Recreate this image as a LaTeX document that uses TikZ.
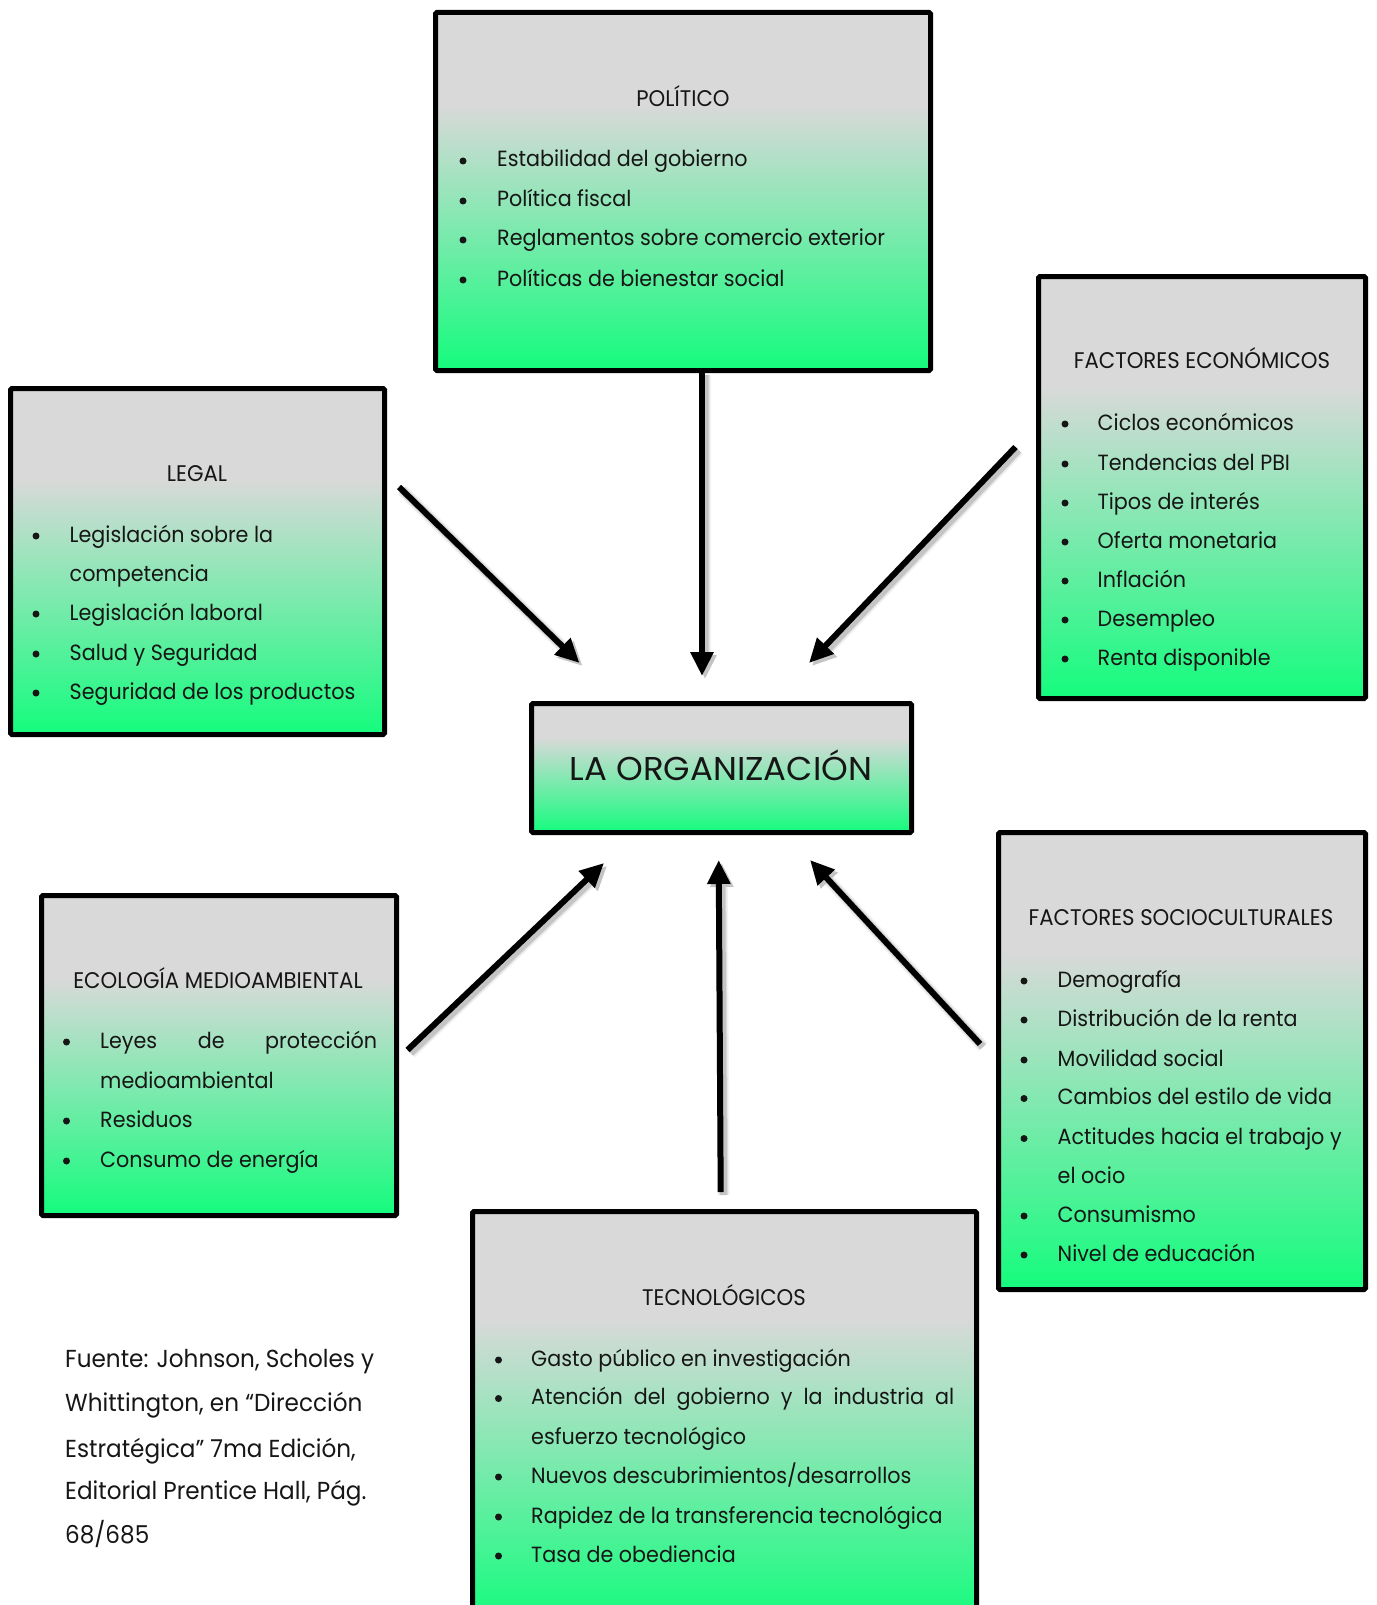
\documentclass[tikz,border=0pt]{standalone}
\usepackage{fontspec}
\setmainfont{Poppins}[FakeStretch=0.94]
\newfontfamily\headfont{Poppins}[FakeStretch=1.03]
\usetikzlibrary{arrows.meta}
\definecolor{pgray}{RGB}{217,217,217}
\definecolor{pgreen}{RGB}{20,252,125}
\definecolor{ink}{RGB}{22,22,22}
% panel fill: light grey at the top fading into bright green at the bottom
\pgfdeclareverticalshading{panelfill}{100bp}{color(0bp)=(pgreen); color(25bp)=(pgreen); color(62bp)=(pgray); color(100bp)=(pgray)}
\newcommand\fsz[1]{\fontsize{#1pt}{#1pt}\selectfont}
% arrow with a soft drop shadow
\newcommand\linkarrow[2]{%
  \foreach \w/\o in {12/0.05,9/0.08,7/0.12}{%
    \begin{scope}[transparency group, opacity=\o]
      \draw[draw=black, line width=\w pt, -{Triangle[length=24pt,width=22pt]}]
        ([shift={(3,3)}]#1) -- ([shift={(3,3)}]#2);
    \end{scope}}%
  \draw[link] (#1) -- (#2);}
\begin{document}
\begin{tikzpicture}[x=1pt,y=-1pt,
  panel/.style={draw=black, line width=5pt, shading=panelfill, rectangle, inner sep=0pt,
    outer sep=0pt, anchor=north west, rounded corners=1.5pt},
  ttl/.style={anchor=base, inner sep=0pt, font=\fsz{22.6}, text=ink},
  itm/.style={anchor=base west, inner sep=0pt, font=\fsz{22}, text=ink},
  dot/.style={circle, fill=ink, inner sep=0pt, minimum size=7pt},
  link/.style={draw=black, line width=6pt, -{Triangle[length=24pt,width=22pt]}},
  note/.style={anchor=base west, inner sep=0pt, font=\fsz{24.6}, text=ink}]
\useasboundingbox (0,0) rectangle (1376,1605);
\clip (0,0) rectangle (1376,1605);

% ---------------- panels ----------------
\node[panel, minimum width=495pt, minimum height=358pt] (pol) at (435.5,12.5) {};
\node[panel, minimum width=374pt, minimum height=346pt] (leg) at (10.5,388.5) {};
\node[panel, minimum width=327pt, minimum height=422pt] (eco) at (1038.5,276.5) {};
\node[panel, minimum width=380pt, minimum height=129pt] (org) at (531.5,703.5) {};
\node[panel, minimum width=355pt, minimum height=320pt] (amb) at (41.5,895.5) {};
\node[panel, minimum width=367pt, minimum height=457pt] (soc) at (998.5,832.5) {};
\node[panel, minimum width=504pt, minimum height=410pt] (tec) at (472.5,1211.5) {};

% ---------------- texts ----------------
\node[ttl, font=\headfont\fsz{33}] (orgT) at (721,780) {LA ORGANIZACIÓN};

\node[ttl] (polT) at (683,107) {POLÍTICO};
\foreach \y/\t [count=\i] in {167/Estabilidad del gobierno,207/Política fiscal,
    246/Reglamentos sobre comercio exterior,286/Políticas de bienestar social}{
  \node[dot] (polB\i) at (463,\y-6) {};
  \node[itm] (polI\i) at (497,\y) {\t};}

\node[ttl] (legT) at (197,481) {LEGAL};
\foreach \y/\t [count=\i] in {542/Legislación sobre la,620/Legislación laboral,
    660/Salud y Seguridad,699/Seguridad de los productos}{
  \node[dot] (legB\i) at (36,\y-6) {};
  \node[itm] (legI\i) at (69.5,\y) {\t};}
\node[itm] (legC) at (69.5,581) {competencia};

\node[ttl] (ecoT) at (1202,368) {FACTORES ECONÓMICOS};
\foreach \y/\t [count=\i] in {430/Ciclos económicos,470/Tendencias del PBI,
    509/Tipos de interés,548/Oferta monetaria,587/Inflación,626/Desempleo,
    665/Renta disponible}{
  \node[dot] (ecoB\i) at (1065,\y-6) {};
  \node[itm] (ecoI\i) at (1097.5,\y) {\t};}

\node[ttl] (ambT) at (218,988) {ECOLOGÍA MEDIOAMBIENTAL};
\node[dot] (ambB1) at (66.5,1042) {};
\node[itm] (ambI1) at (100,1048) {\makebox[277pt][s]{Leyes de protección}};
\node[itm] (ambC) at (100,1088) {medioambiental};
\foreach \y/\t [count=\i from 2] in {1127/Residuos,1167/Consumo de energía}{
  \node[dot] (ambB\i) at (66.5,\y-6) {};
  \node[itm] (ambI\i) at (100,\y) {\t};}

\node[ttl] (socT) at (1181,925) {FACTORES SOCIOCULTURALES};
\foreach \y/\t [count=\i] in {987/Demografía,1026/Distribución de la renta,
    1066/Movilidad social,1104.5/Cambios del estilo de vida}{
  \node[dot] (socB\i) at (1024,\y-6) {};
  \node[itm] (socI\i) at (1057.5,\y) {\t};}
\node[dot] (socB5) at (1024,1138.5) {};
\node[itm] (socI5) at (1057.5,1144.5) {\makebox[284pt][s]{Actitudes hacia el trabajo y}};
\node[itm] (socC) at (1057.5,1183) {el ocio};
\foreach \y/\t [count=\i from 6] in {1222/Consumismo,1261/Nivel de educación}{
  \node[dot] (socB\i) at (1024,\y-6) {};
  \node[itm] (socI\i) at (1057.5,\y) {\t};}

\node[ttl] (tecT) at (724,1305) {TECNOLÓGICOS};
\node[dot] (tecB1) at (498.5,1360) {};
\node[itm] (tecI1) at (531,1366) {Gasto público en investigación};
\node[dot] (tecB2) at (498.5,1398.5) {};
\node[itm] (tecI2) at (531,1404.5) {\makebox[423pt][s]{Atención del gobierno y la industria al}};
\node[itm] (tecC) at (531,1444) {esfuerzo tecnológico};
\foreach \y/\t [count=\i from 3] in {1483/{Nuevos descubrimientos/desarrollos},
    1523/Rapidez de la transferencia tecnológica,1562/Tasa de obediencia}{
  \node[dot] (tecB\i) at (498.5,\y-6) {};
  \node[itm] (tecI\i) at (531,\y) {\t};}

% ---------------- source note ----------------
\node[note] (src1) at (65,1367) {Fuente: Johnson, Scholes y};
\node[note] (src2) at (65,1411) {Whittington, en “Dirección};
\node[note] (src3) at (65,1457) {Estratégica” 7ma Edición,};
\node[note] (src4) at (65,1499) {Editorial Prentice Hall, Pág.};
\node[note] (src5) at (65,1543) {68/685};

% ---------------- arrows ----------------
\coordinate (polA) at (702,372);   \coordinate (polZ) at (702,676);
\coordinate (legA) at (399,487);   \coordinate (legZ) at (579.5,663);
\coordinate (ecoA) at (1015.5,447);\coordinate (ecoZ) at (809,663);
\coordinate (ambA) at (407.5,1050);\coordinate (ambZ) at (604,863);
\coordinate (tecA) at (720.7,1192);\coordinate (tecZ) at (718.7,860);
\coordinate (socA) at (980,1044);  \coordinate (socZ) at (810,860);
\linkarrow{polA}{polZ}
\linkarrow{legA}{legZ}
\linkarrow{ecoA}{ecoZ}
\linkarrow{ambA}{ambZ}
\linkarrow{tecA}{tecZ}
\linkarrow{socA}{socZ}
\end{tikzpicture}
\end{document}
